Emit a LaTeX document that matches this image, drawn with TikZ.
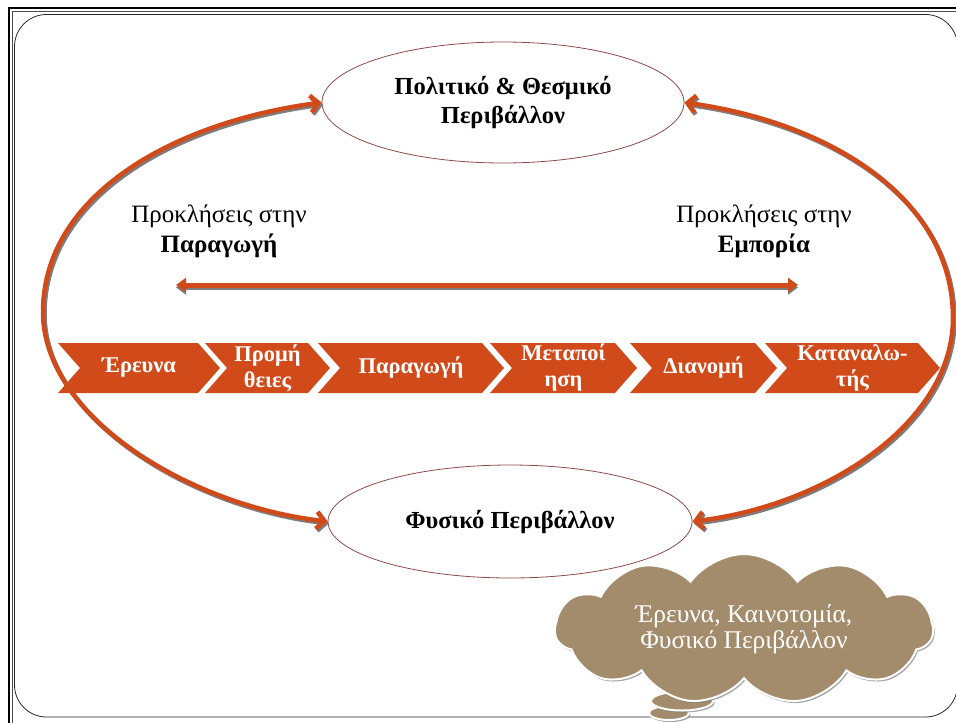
\documentclass[tikz,border=0pt]{standalone}
\usepackage{fontspec}
\setmainfont{Liberation Serif}
\usetikzlibrary{arrows.meta,shapes.geometric,shapes.symbols,shadows}
\definecolor{org}{RGB}{209,74,26}
\definecolor{ellc}{RGB}{140,75,75}
\definecolor{cloudc}{RGB}{163,140,108}
\definecolor{shad}{RGB}{125,125,125}
\newcommand\mychev[4]{%
  \fill[org] (#1,343) -- (#2,343) -- (#2+22,368) -- (#2,393) -- (#1,393) -- (#1+22,368) -- cycle;
  \node[chevtxt] (#3) at ({(#1+#2)/2+11},368) {#4};
}
\begin{document}
\begin{tikzpicture}[x=1pt,y=-1pt,
  ell/.style={ellipse, draw=ellc, line width=0.8pt, fill=white, align=center,
    font=\fontsize{24.5}{29}\selectfont\bfseries, inner sep=0pt},
  chevtxt/.style={text=white, font=\fontsize{22.5}{26}\selectfont\bfseries, align=center, inner sep=0pt},
  lbl/.style={align=center, font=\fontsize{25}{30}\selectfont, inner sep=0pt},
  arcpath/.style={line width=4.5pt, {Straight Barb[length=8pt,width=17pt]}-{Straight Barb[length=8pt,width=17pt]}},
  harrow/.style={line width=5pt, {Triangle[length=10pt,width=14pt]}-{Triangle[length=10pt,width=14pt]}},
  bubble/.style={ellipse, fill=cloudc, draw=white, line width=2pt, inner sep=0pt,
    drop shadow={shadow xshift=1.5pt, shadow yshift=-2pt, fill=shad, opacity=0.7}}
]
\useasboundingbox (0,0) rectangle (956,723);
% frame
\draw[line width=2.5pt, black] (9,723) -- (9,8) -- (956,8);
\draw[line width=0.6pt, black!70] (12.5,723) -- (12.5,11) -- (956,11);
\draw[line width=0.8pt, black!85, rounded corners=32pt] (14.5,14.5) rectangle (957.5,717);

% chevron band
\mychev{58}{198}{c1}{Έρευνα}
\mychev{205}{308}{c2}{Προμή\\θειες}
\mychev{318}{482}{c3}{Παραγωγή}
\mychev{490}{615}{c4}{Μεταποί\\ηση}
\mychev{630}{755}{c5}{Διανομή}
\mychev{765}{918}{c6}{Καταναλω-\\τής}

% ellipses
\node[ell, minimum width=362pt, minimum height=121pt] (top) at (503,102.5) {Πολιτικό \& Θεσμικό\\Περιβάλλον};
\node[ell, minimum width=364pt, minimum height=113pt] (bot) at (510,521.5) {Φυσικό Περιβάλλον};

\coordinate (lm) at (43,312);
\coordinate (rm) at (953,318);

% big arcs: shadow then colour
\begin{scope}[transform canvas={xshift=1.5pt, yshift=-2pt}]
\draw[arcpath, shad] (top.west) .. controls +(-150,20) and +(0,-116) .. (lm)
   .. controls +(0,104) and +(-140,-16) .. (bot.west);
\draw[arcpath, shad] (top.east) .. controls +(145,20) and +(0,-120) .. (rm)
   .. controls +(0,104) and +(135,-16) .. (bot.east);
\end{scope}
\draw[arcpath, org] (top.west) .. controls +(-150,20) and +(0,-116) .. (lm)
   .. controls +(0,104) and +(-140,-16) .. (bot.west);
\draw[arcpath, org] (top.east) .. controls +(145,20) and +(0,-120) .. (rm)
   .. controls +(0,104) and +(135,-16) .. (bot.east);

% labels
\node[lbl] (lp) at (219,231) {Προκλήσεις στην\\\textbf{Παραγωγή}};
\node[lbl] (le) at (764,231) {Προκλήσεις στην\\\textbf{Εμπορία}};

% horizontal double arrow
\coordinate (hl) at (176,285);
\coordinate (hr) at (798,285);
\draw[harrow, shad, transform canvas={yshift=-2.5pt}] (hl) -- (hr);
\draw[harrow, org] (hl) -- (hr);

% thought cloud
\node[bubble, minimum width=40pt, minimum height=14pt] (b2) at (669,713) {};
\node[bubble, minimum width=62pt, minimum height=19pt] (b1) at (682,701) {};
\node[cloud, cloud puffs=11, cloud puff arc=110, aspect=2.8,
      minimum width=378pt, minimum height=134pt, inner sep=0pt,
      fill=cloudc, draw=white, line width=2pt,
      drop shadow={shadow xshift=1.5pt, shadow yshift=-2pt, fill=shad, opacity=0.7},
      text=white, align=center, font=\fontsize{25.5}{26}\selectfont] (cl) at (744,629)
      {Έρευνα, Καινοτομία,\\Φυσικό Περιβάλλον};
\end{tikzpicture}
\end{document}
